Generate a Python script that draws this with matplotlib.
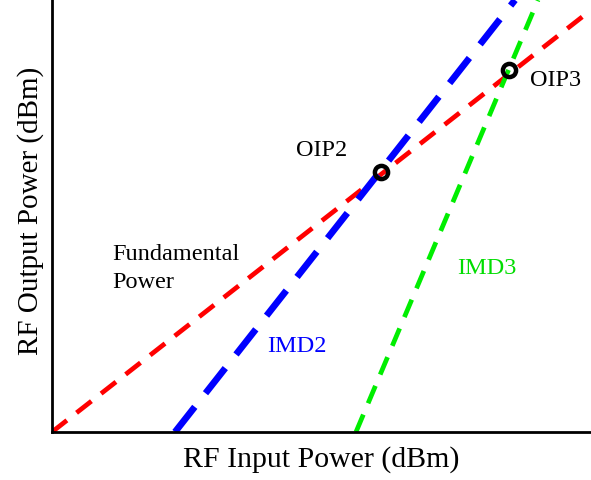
import matplotlib.pyplot as plt

plt.rcParams['font.family'] = ['Liberation Serif', 'DejaVu Serif']

# line endpoints in plot units (x: 0..539, y: 0..432)
fund_x = [0, 539]
fund_y = [0, 422]
imd2_x = [123, 463]
imd2_y = [0, 432]
imd3_x = [304, 486]
imd3_y = [0, 432]

# intercept points
oip2 = (329, 260)
oip3 = (457, 362)

fig = plt.figure(figsize=(5.91, 4.8), dpi=100)
ax = fig.add_axes([52 / 591, 48 / 480, 539 / 591, 432 / 480])

ax.plot(fund_x, fund_y, color='red', lw=3.4, dashes=(4, 2.6), zorder=2)
ax.plot(imd2_x, imd2_y, color='blue', lw=4.8, dashes=(4.8, 2.6), zorder=2)
ax.plot(imd3_x, imd3_y, color='#00ee00', lw=3.4, dashes=(4, 2.6), zorder=2)

for p in (oip2, oip3):
    ax.plot(p[0], p[1], 'o', ms=9.5, mfc='none', mec='black', mew=3.2, zorder=3)

fs = 17.5
ax.text(270, 282, 'OIP2', fontsize=fs, ha='center', va='center')
ax.text(504, 351, 'OIP3', fontsize=fs, ha='center', va='center')
ax.text(60, 177, 'Fundamental', fontsize=fs, ha='left', va='center')
ax.text(60, 150, 'Power', fontsize=fs, ha='left', va='center')
ax.text(245, 85, 'IMD2', fontsize=fs, ha='center', va='center', color='blue')
ax.text(435, 164, 'IMD3', fontsize=fs, ha='center', va='center', color='#00dd00')

ax.set_xlim(0, 539)
ax.set_ylim(0, 432)
ax.set_xticks([])
ax.set_yticks([])
ax.spines['top'].set_visible(False)
ax.spines['right'].set_visible(False)
ax.spines['left'].set_linewidth(2)
ax.spines['bottom'].set_linewidth(2)
ax.set_xlabel('RF Input Power (dBm)', fontsize=21.5, labelpad=10)
ax.set_ylabel('RF Output Power (dBm)', fontsize=21)
ax.yaxis.set_label_coords(-8 / 539, (432 - 211) / 432)

fig.savefig('out.png', dpi=100)
